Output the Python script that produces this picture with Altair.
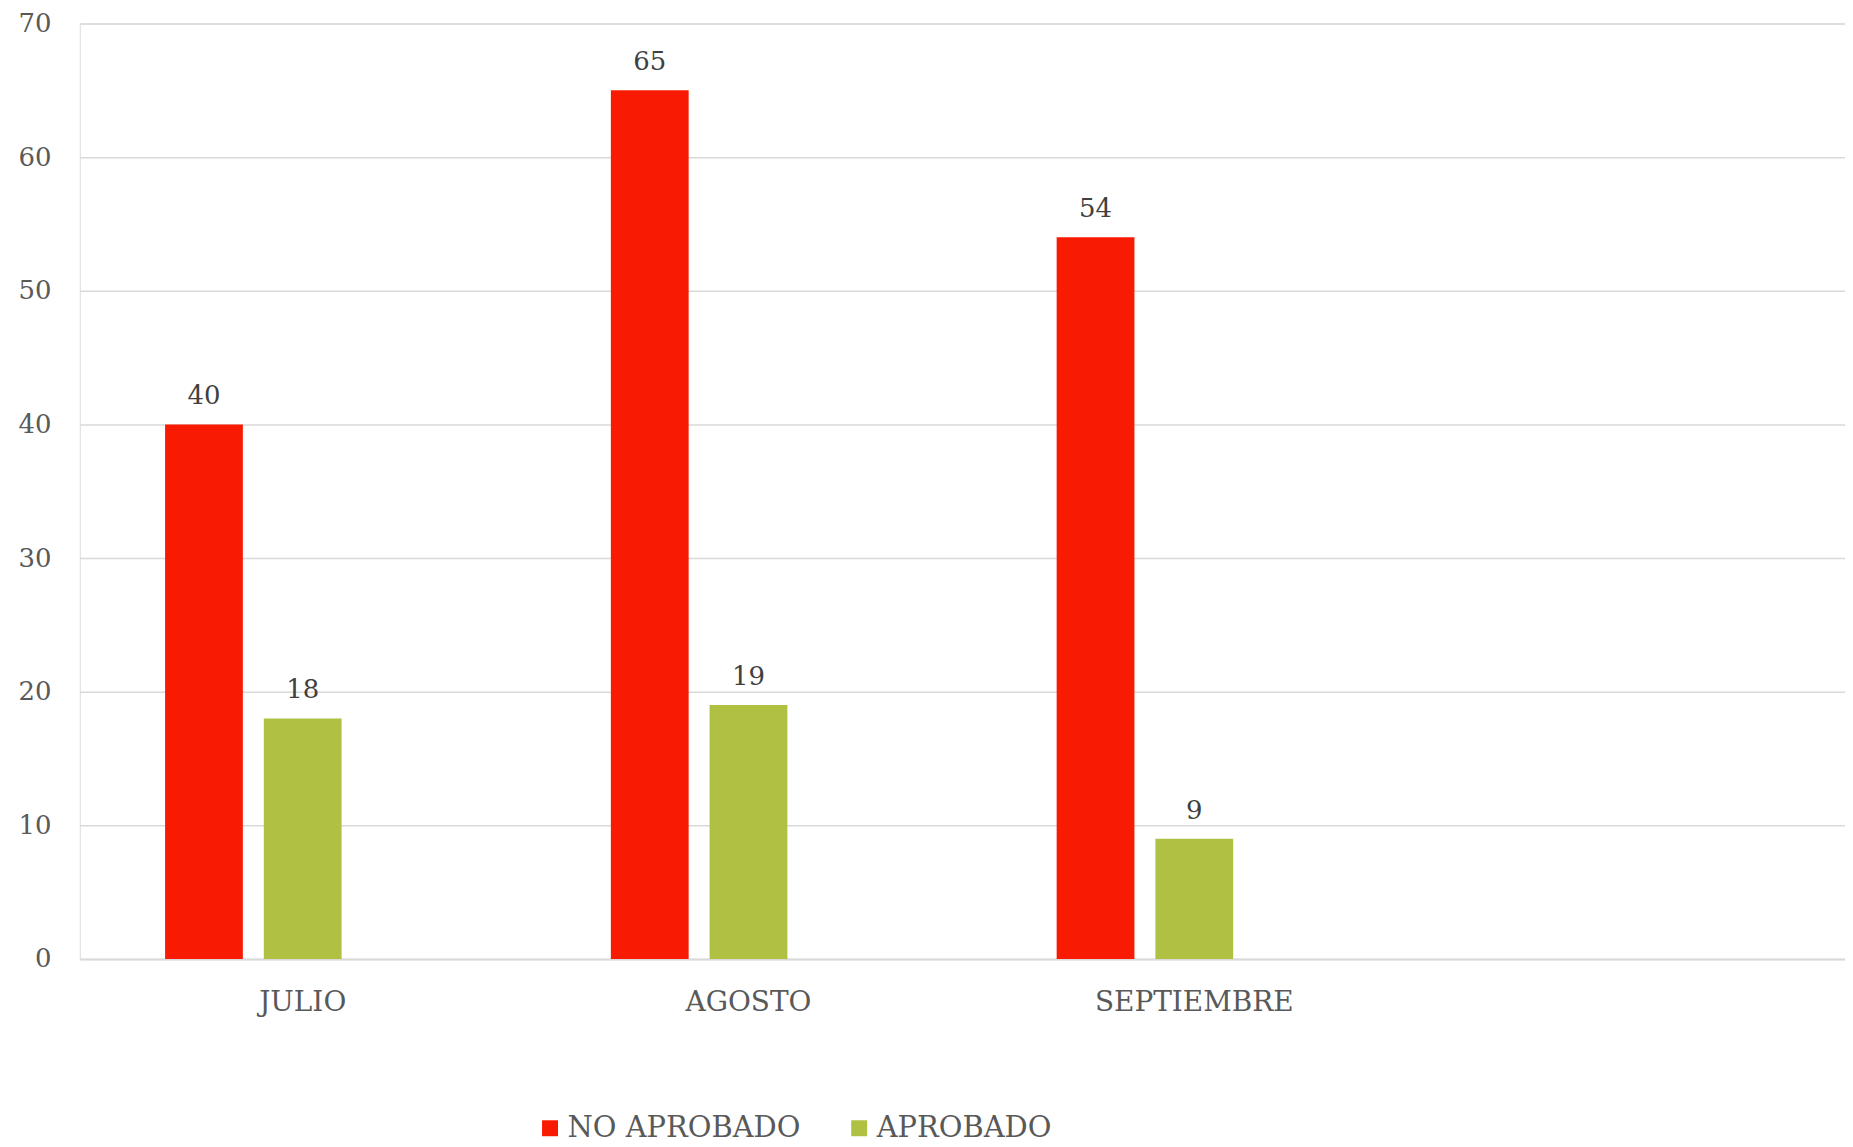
import altair as alt
import pandas as pd

months = ["JULIO", "AGOSTO", "SEPTIEMBRE"]
no_aprobado = [40, 65, 54]
aprobado = [18, 19, 9]
series = ["NO APROBADO", "APROBADO"]
colors = ["#F81B02", "#AFC042"]

# Excel layout: an empty fourth category and an empty third series slot
x_domain = months + [" "]
offset_domain = series + ["_"]

rows = []
for m, a, b in zip(months, no_aprobado, aprobado):
    rows.append({"mes": m, "serie": "NO APROBADO", "valor": a})
    rows.append({"mes": m, "serie": "APROBADO", "valor": b})
df = pd.DataFrame(rows)

FONT = "DejaVu Serif"

x_enc = alt.X(
    "mes:N",
    sort=x_domain,
    scale=alt.Scale(domain=x_domain, range=[0, 1788], paddingInner=0.3826, paddingOuter=0.1913),
    axis=alt.Axis(
        title=None, labelAngle=0, ticks=False, grid=False,
        domain=True, domainColor="#D9D9D9", domainWidth=2,
        labelFont=FONT, labelFontSize=28, labelColor="#595959",
        labelPadding=30, labelLimit=0,
    ),
)
xo_enc = alt.XOffset(
    "serie:N",
    scale=alt.Scale(domain=offset_domain, paddingInner=0.2121, paddingOuter=0),
)
y_enc = alt.Y(
    "valor:Q",
    scale=alt.Scale(domain=[0, 70], nice=False),
    axis=alt.Axis(
        title=None, values=[0, 10, 20, 30, 40, 50, 60, 70], ticks=False, domain=False,
        grid=True, gridColor="#D9D9D9", gridWidth=1.5,
        labelFont=FONT, labelFontSize=26, labelColor="#595959",
        labelPadding=29, labelLimit=0,
    ),
)

base = alt.Chart(df)

bars = base.mark_bar().encode(
    x=x_enc,
    xOffset=xo_enc,
    y=y_enc,
    color=alt.Color(
        "serie:N",
        scale=alt.Scale(domain=series, range=colors),
        legend=alt.Legend(
            title=None, orient="none", legendX=457, legendY=1093,
            direction="horizontal", symbolType="square", symbolSize=256,
            symbolStrokeWidth=0, labelFont=FONT, labelFontSize=29,
            labelColor="#595959", labelOffset=3, columnPadding=44, padding=0,
            labelLimit=0,
        ),
    ),
)

labels = base.mark_text(dy=-28, font=FONT, fontSize=26, color="#404040").encode(
    x=alt.X("mes:N", sort=x_domain),
    xOffset=alt.XOffset("serie:N"),
    y=alt.Y("valor:Q"),
    text=alt.Text("valor:Q"),
)

chart = (
    alt.layer(bars, labels)
    .properties(
        width=1770,
        height=938,
        autosize=alt.AutoSizeParams(type="none"),
        padding={"left": 72, "top": 14, "right": 0, "bottom": 187},
    )
    .configure_view(stroke=None)
    .configure(background="white")
)

chart.save("out.html", embed_options={"renderer": "svg", "actions": False})
